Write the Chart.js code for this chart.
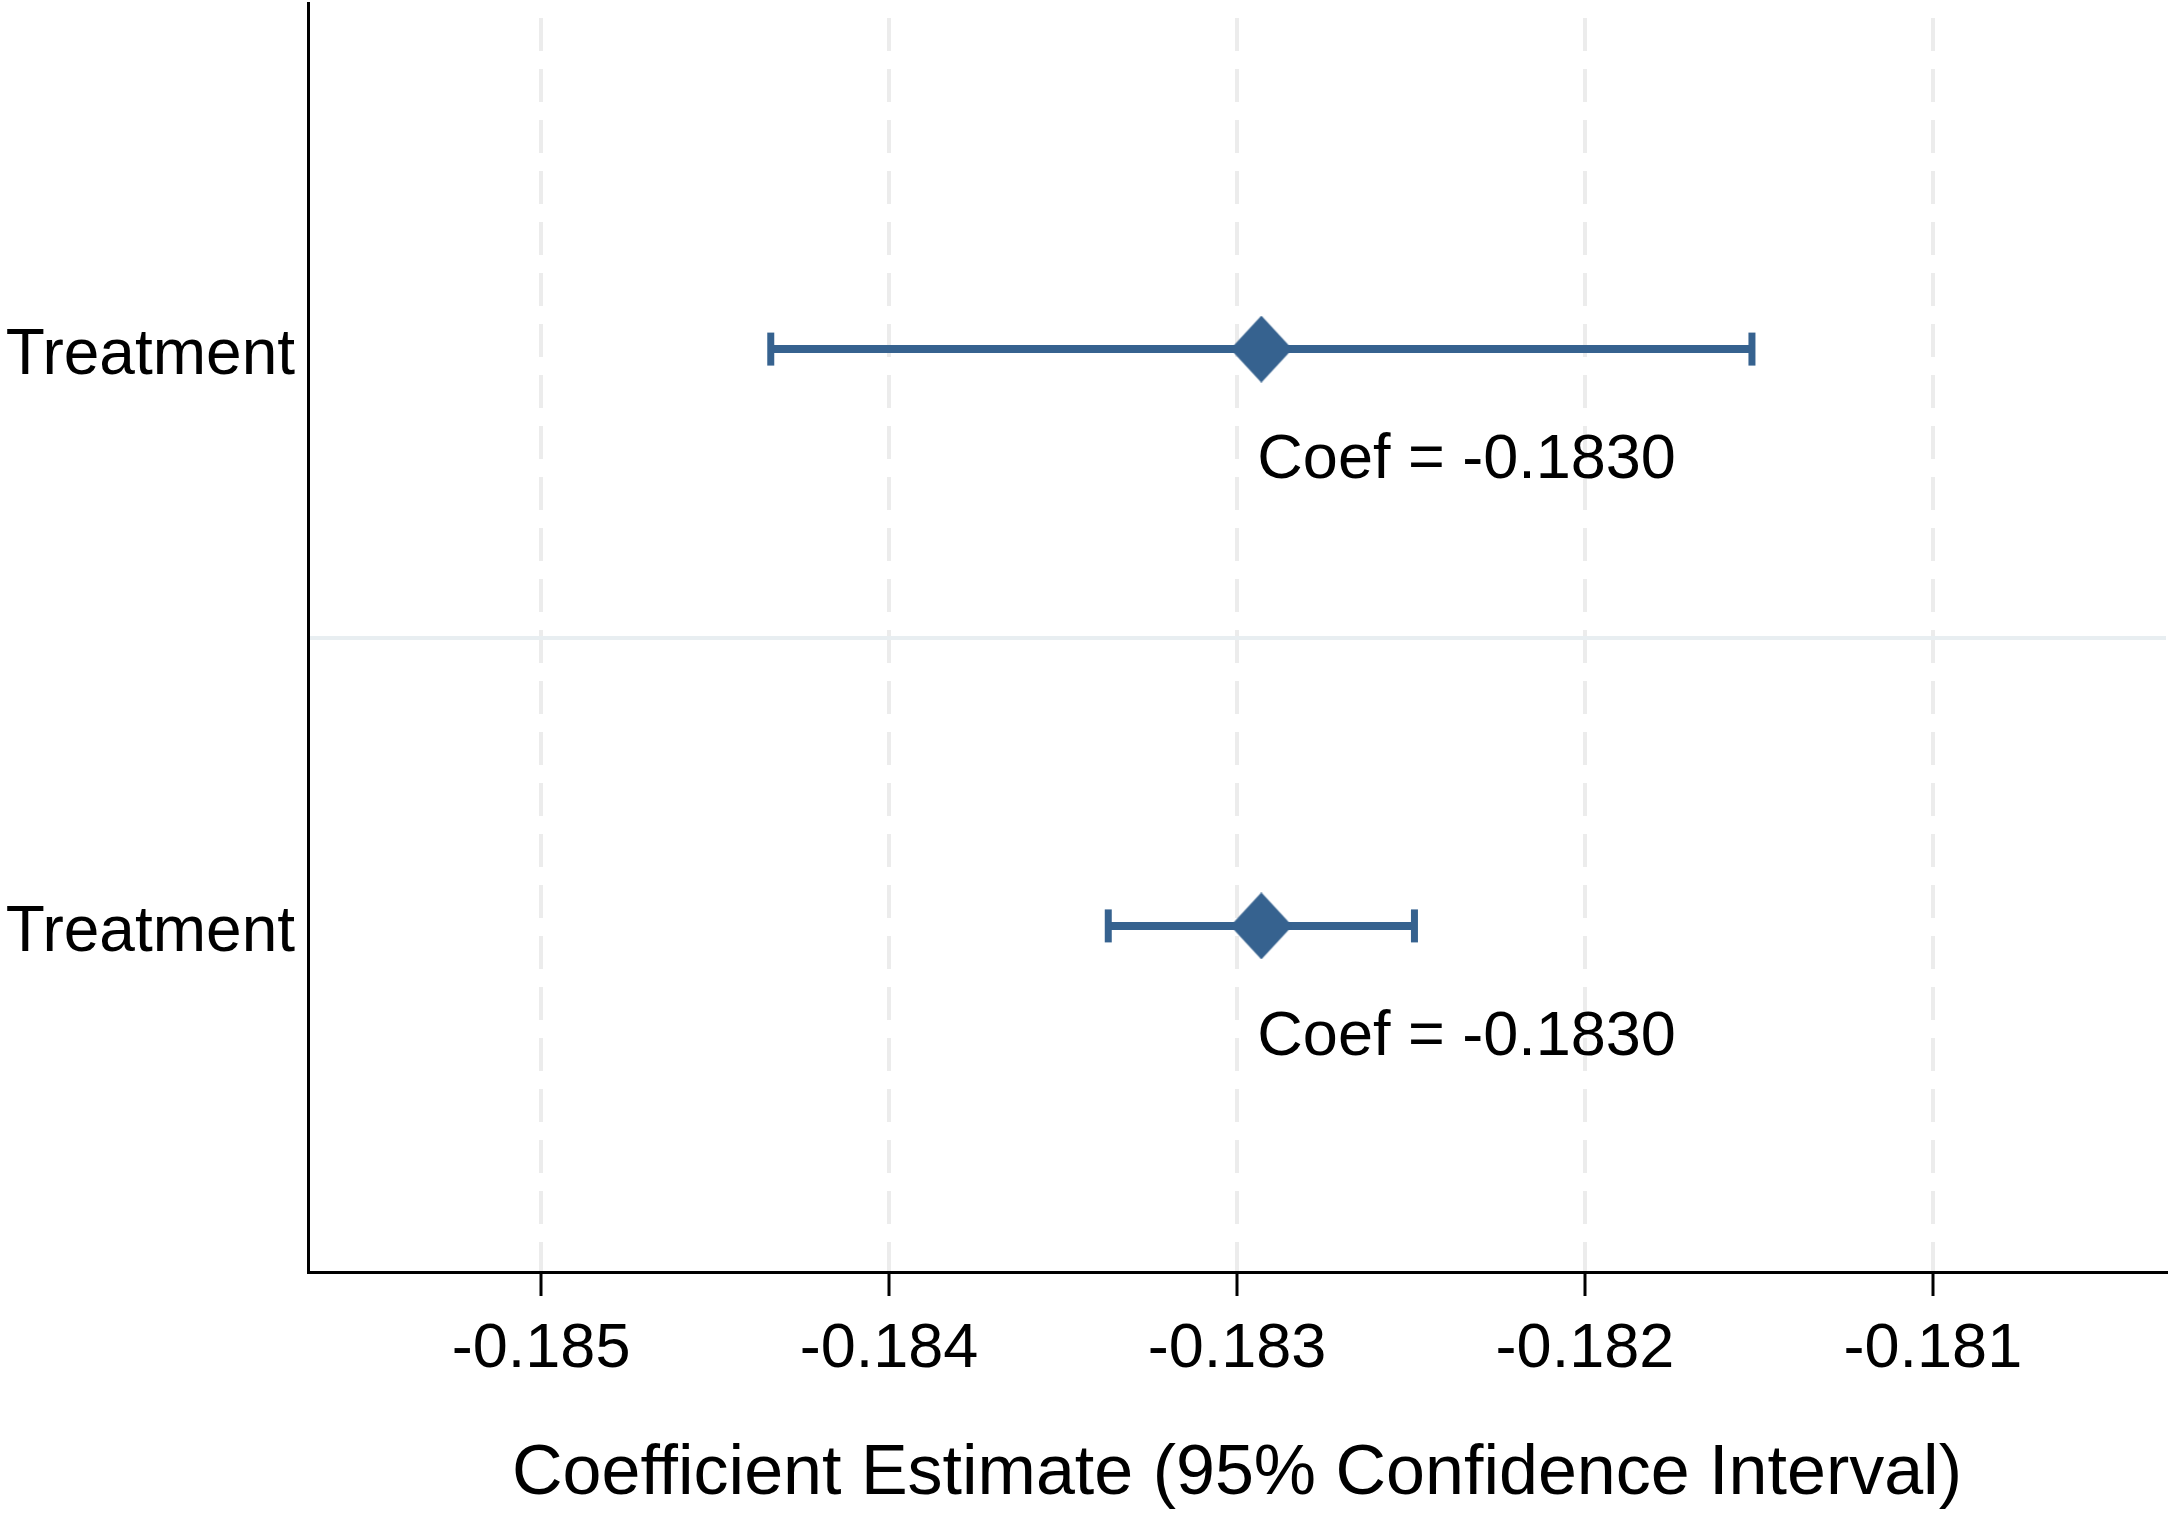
<!DOCTYPE html>
<html>
<head>
<meta charset="utf-8">
<script src="https://cdn.jsdelivr.net/npm/chart.js@4.4.1/dist/chart.umd.min.js"></script>
<style>
  html, body { margin: 0; padding: 0; background: #ffffff; }
  canvas { display: block; }
</style>
</head>
<body>
<canvas id="coefPlot" width="2168" height="1513"></canvas>
<script>
// values
const rows = ['Treatment', 'Treatment'];
const rowPos = [1, 2];
const coef = [-0.18293, -0.18293];
const ciLow = [-0.18434, -0.18337];
const ciHigh = [-0.18152, -0.18249];
const coefLabels = ['Coef = -0.1830', 'Coef = -0.1830'];
const xTicks = [-0.185, -0.184, -0.183, -0.182, -0.181];
const separators = [1.5];

const navy = '#36628f';
const font = 'Liberation Sans, Arial, sans-serif';

// diamond marker, a bit taller than wide
var diamond = document.createElement('canvas');
diamond.width = 62;
diamond.height = 67;
var dctx = diamond.getContext('2d');
dctx.fillStyle = navy;
dctx.beginPath();
dctx.moveTo(31, 0);
dctx.lineTo(62, 33.5);
dctx.lineTo(31, 67);
dctx.lineTo(0, 33.5);
dctx.closePath();
dctx.fill();

var datasets = [{
  label: 'estimate',
  data: rowPos.map((y, i) => ({x: coef[i], y: y})),
  pointStyle: diamond,
  pointRadius: 33,
  showLine: false
}];
rowPos.forEach(function (y, i) {
  datasets.push({
    label: 'ci' + i,
    data: [{x: ciLow[i], y: y}, {x: ciHigh[i], y: y}],
    showLine: true,
    borderColor: navy,
    borderWidth: 8,
    pointStyle: 'line',
    rotation: 90,
    pointRadius: 16.5,
    pointBorderColor: navy,
    pointBorderWidth: 7
  });
});

// "Coef = ..." text under each marker
var coefText = {
  id: 'coefText',
  afterDatasetsDraw(chart) {
    var c = chart.ctx, xs = chart.scales.x, ys = chart.scales.y;
    c.save();
    c.font = '63px ' + font;
    c.fillStyle = '#000';
    c.textAlign = 'left';
    c.textBaseline = 'alphabetic';
    rowPos.forEach(function (y, i) {
      c.fillText(coefLabels[i], xs.getPixelForValue(coef[i]) - 4, ys.getPixelForValue(y) + 129);
    });
    c.restore();
  }
};

new Chart(document.getElementById('coefPlot'), {
  type: 'scatter',
  data: { datasets: datasets },
  plugins: [coefText],
  options: {
    responsive: false,
    animation: false,
    layout: { autoPadding: false, padding: { top: 3, right: 2, left: 0, bottom: 0 } },
    plugins: { legend: { display: false }, tooltip: { enabled: false } },
    scales: {
      x: {
        type: 'linear',
        min: -0.18567,
        max: -0.18033,
        afterBuildTicks: s => { s.ticks = xTicks.map(v => ({value: v})); },
        afterFit: s => { s.height = 241; s.paddingLeft = 0; s.paddingRight = 0; },
        ticks: {
          callback: v => v.toFixed(3),
          font: { family: font, size: 63 },
          color: '#000',
          padding: 16,
          maxRotation: 0
        },
        grid: {
          color: '#ececec',
          lineWidth: 4,
          tickLength: 24,
          tickColor: '#000',
          tickWidth: 3,
          tickBorderDash: []
        },
        border: { color: '#000', width: 3, dash: [33, 18], dashOffset: 36 },
        title: {
          display: true,
          text: 'Coefficient Estimate (95% Confidence Interval)',
          font: { family: font, size: 70, lineHeight: 1.0 },
          color: '#000',
          padding: { top: 0, bottom: 3 }
        }
      },
      y: {
        type: 'linear',
        reverse: true,
        min: 0.4,
        max: 2.6,
        afterBuildTicks: s => { s.ticks = rowPos.concat(separators).sort().map(v => ({value: v})); },
        afterFit: s => { s.width = 308; s.paddingTop = 0; s.paddingBottom = 0; },
        ticks: {
          callback: v => { var k = rowPos.indexOf(v); return k >= 0 ? rows[k] : ''; },
          font: { family: font, size: 64 },
          color: '#000',
          padding: 13,
          labelOffset: 7
        },
        grid: {
          color: ctx => (ctx.tick && separators.indexOf(ctx.tick.value) >= 0) ? '#e8eef1' : 'rgba(0,0,0,0)',
          lineWidth: 4,
          drawTicks: false
        },
        border: { color: '#000', width: 3 }
      }
    }
  }
});
</script>
</body>
</html>
